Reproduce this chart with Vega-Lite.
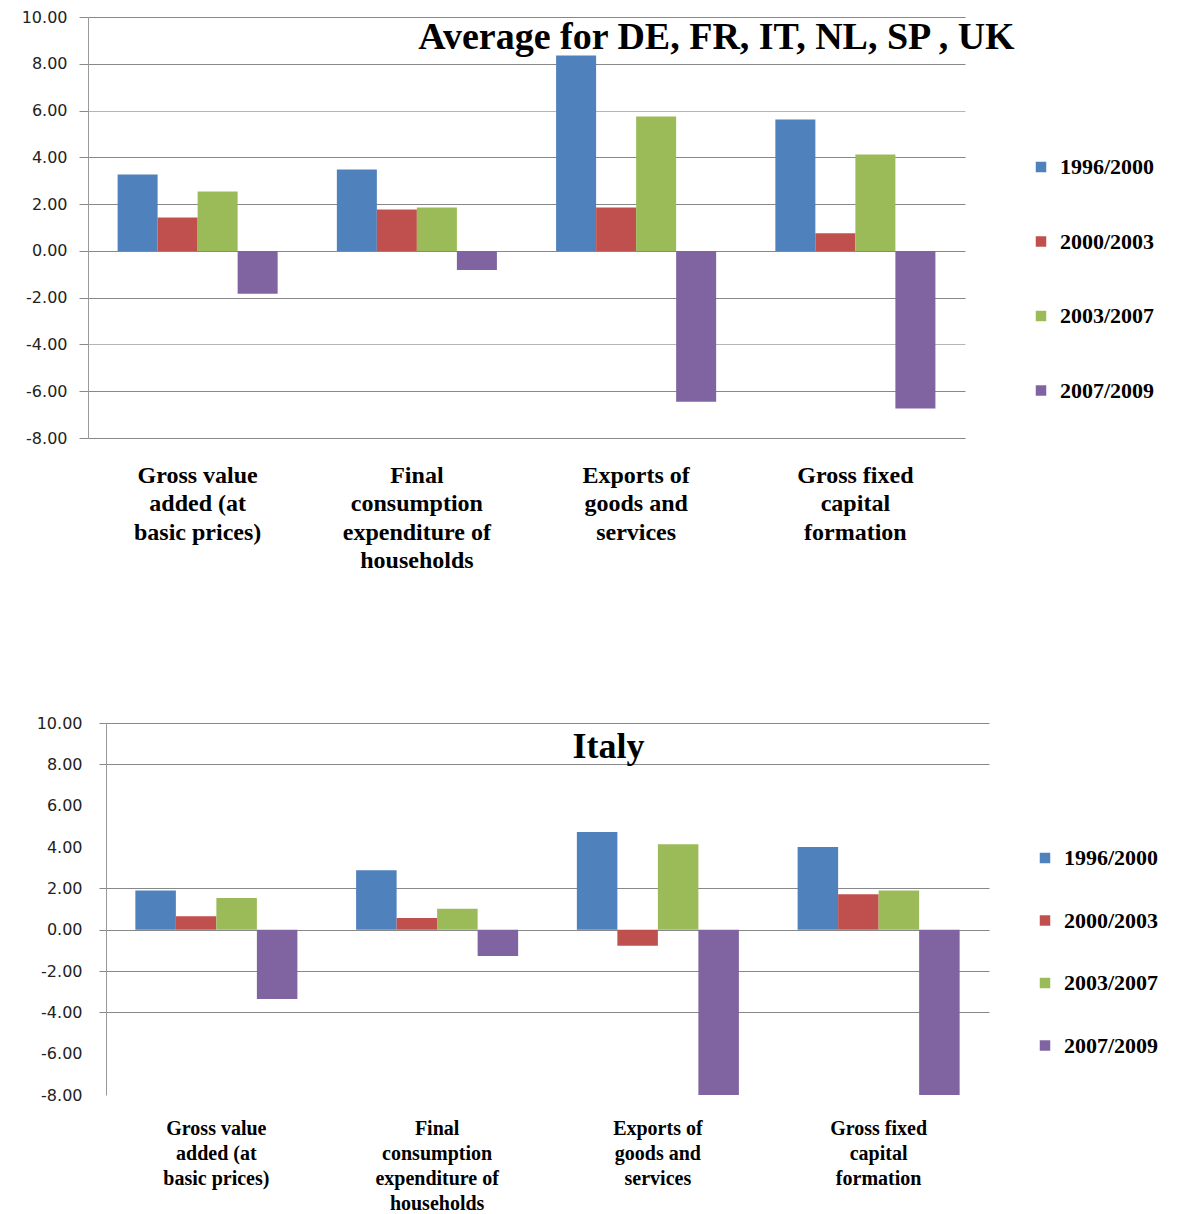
{
  "$schema": "https://vega.github.io/schema/vega-lite/v6.json",
  "background": "white",
  "padding": {"left": 0, "top": 9, "right": 0, "bottom": 0},
  "config": {"view": {"stroke": null}},
  "datasets": {
    "avg": [
      {"category": "Gross value added (at basic prices)", "period": "1996/2000", "value": 3.27},
      {"category": "Gross value added (at basic prices)", "period": "2000/2003", "value": 1.43},
      {"category": "Gross value added (at basic prices)", "period": "2003/2007", "value": 2.54},
      {"category": "Gross value added (at basic prices)", "period": "2007/2009", "value": -1.83},
      {"category": "Final consumption expenditure of households", "period": "1996/2000", "value": 3.48},
      {"category": "Final consumption expenditure of households", "period": "2000/2003", "value": 1.77},
      {"category": "Final consumption expenditure of households", "period": "2003/2007", "value": 1.86},
      {"category": "Final consumption expenditure of households", "period": "2007/2009", "value": -0.82},
      {"category": "Exports of goods and services", "period": "1996/2000", "value": 8.35},
      {"category": "Exports of goods and services", "period": "2000/2003", "value": 1.86},
      {"category": "Exports of goods and services", "period": "2003/2007", "value": 5.75},
      {"category": "Exports of goods and services", "period": "2007/2009", "value": -6.45},
      {"category": "Gross fixed capital formation", "period": "1996/2000", "value": 5.62},
      {"category": "Gross fixed capital formation", "period": "2000/2003", "value": 0.75},
      {"category": "Gross fixed capital formation", "period": "2003/2007", "value": 4.12},
      {"category": "Gross fixed capital formation", "period": "2007/2009", "value": -6.74}
    ],
    "italy": [
      {"category": "Gross value added (at basic prices)", "period": "1996/2000", "value": 1.9},
      {"category": "Gross value added (at basic prices)", "period": "2000/2003", "value": 0.65},
      {"category": "Gross value added (at basic prices)", "period": "2003/2007", "value": 1.53},
      {"category": "Gross value added (at basic prices)", "period": "2007/2009", "value": -3.35},
      {"category": "Final consumption expenditure of households", "period": "1996/2000", "value": 2.88},
      {"category": "Final consumption expenditure of households", "period": "2000/2003", "value": 0.56},
      {"category": "Final consumption expenditure of households", "period": "2003/2007", "value": 1.01},
      {"category": "Final consumption expenditure of households", "period": "2007/2009", "value": -1.28},
      {"category": "Exports of goods and services", "period": "1996/2000", "value": 4.72},
      {"category": "Exports of goods and services", "period": "2000/2003", "value": -0.78},
      {"category": "Exports of goods and services", "period": "2003/2007", "value": 4.13},
      {"category": "Exports of goods and services", "period": "2007/2009", "value": -8.0},
      {"category": "Gross fixed capital formation", "period": "1996/2000", "value": 4.0},
      {"category": "Gross fixed capital formation", "period": "2000/2003", "value": 1.71},
      {"category": "Gross fixed capital formation", "period": "2003/2007", "value": 1.9},
      {"category": "Gross fixed capital formation", "period": "2007/2009", "value": -8.0}
    ]
  },
  "spacing": 142,
  "resolve": {
    "scale": {"x": "independent", "y": "independent", "xOffset": "independent", "color": "independent"},
    "legend": {"color": "independent"}
  },
  "vconcat": [
    {
      "width": 877,
      "height": 421,
      "title": {"text": "Average for DE, FR, IT, NL, SP , UK", "font": "Liberation Serif", "fontSize": 38, "fontWeight": "bold", "color": "black", "anchor": "middle", "frame": "group", "dx": 190, "offset": -48},
      "data": {"name": "avg"},
      "mark": {"type": "bar"},
      "encoding": {
        "x": {
          "field": "category", "type": "nominal",
          "sort": ["Gross value added (at basic prices)", "Final consumption expenditure of households", "Exports of goods and services", "Gross fixed capital formation"],
          "scale": {"paddingInner": 0.27, "paddingOuter": 0.135},
          "axis": {
            "title": null, "domain": false, "ticks": false, "grid": false, "labelAngle": 0,
            "labelFont": "Liberation Serif", "labelFontWeight": "bold", "labelFontSize": 24, "labelColor": "black",
            "labelLineHeight": 28.5, "labelBaseline": "top", "labelPadding": 25, "labelLimit": 0,
            "labelExpr": "datum.value == 'Gross value added (at basic prices)' ? ['Gross value', 'added (at', 'basic prices)'] : datum.value == 'Final consumption expenditure of households' ? ['Final', 'consumption', 'expenditure of', 'households'] : datum.value == 'Exports of goods and services' ? ['Exports of', 'goods and', 'services'] : ['Gross fixed', 'capital', 'formation']"
          }
        },
        "xOffset": {"field": "period", "type": "nominal", "sort": ["1996/2000", "2000/2003", "2003/2007", "2007/2009"], "scale": {"paddingInner": 0, "paddingOuter": 0}},
        "y": {
          "field": "value", "type": "quantitative",
          "scale": {"domain": [-8, 10], "nice": false, "zero": false},
          "axis": {
            "title": null, "values": [-8, -6, -4, -2, 0, 2, 4, 6, 8, 10], "format": ".2f",
            "labelExpr": "replace(datum.label, '\u2212', '-')",
            "labelFont": "DejaVu Sans", "labelFontSize": 16, "labelColor": "#222", "labelPadding": 12,
            "tickSize": 9, "tickColor": "#888", "domainColor": "#999",
            "gridColor": {"condition": {"test": "datum.value == 6 || datum.value == -4", "value": "#b5b5b5"}, "value": "#888"},
            "minExtent": 88
          }
        },
        "color": {
          "field": "period", "type": "nominal",
          "scale": {"domain": ["1996/2000", "2000/2003", "2003/2007", "2007/2009"], "range": ["#4F81BD", "#C0504D", "#9BBB59", "#8064A2"]},
          "legend": {
            "title": null, "orient": "none", "legendX": 942, "legendY": 139, "padding": 0,
            "symbolType": "square", "symbolSize": 110, "symbolStrokeWidth": 0,
            "labelFont": "Liberation Serif", "labelFontWeight": "bold", "labelFontSize": 22, "labelColor": "black",
            "labelOffset": 8, "rowPadding": 52.5
          }
        }
      }
    },
    {
      "width": 901,
      "height": 372,
      "title": {"text": "Italy", "font": "Liberation Serif", "fontSize": 36, "fontWeight": "bold", "color": "black", "anchor": "middle", "frame": "group", "dx": 70, "offset": -51},
      "data": {"name": "italy"},
      "mark": {"type": "bar", "clip": true},
      "encoding": {
        "x": {
          "field": "category", "type": "nominal",
          "sort": ["Gross value added (at basic prices)", "Final consumption expenditure of households", "Exports of goods and services", "Gross fixed capital formation"],
          "scale": {"paddingInner": 0.266, "paddingOuter": 0.133, "range": [18, 901]},
          "axis": {
            "title": null, "domain": false, "ticks": false, "grid": false, "labelAngle": 0,
            "labelFont": "Liberation Serif", "labelFontWeight": "bold", "labelFontSize": 20, "labelColor": "black",
            "labelLineHeight": 25, "labelBaseline": "top", "labelPadding": 23, "labelLimit": 0,
            "labelExpr": "datum.value == 'Gross value added (at basic prices)' ? ['Gross value', 'added (at', 'basic prices)'] : datum.value == 'Final consumption expenditure of households' ? ['Final', 'consumption', 'expenditure of', 'households'] : datum.value == 'Exports of goods and services' ? ['Exports of', 'goods and', 'services'] : ['Gross fixed', 'capital', 'formation']"
          }
        },
        "xOffset": {"field": "period", "type": "nominal", "sort": ["1996/2000", "2000/2003", "2003/2007", "2007/2009"], "scale": {"paddingInner": 0, "paddingOuter": 0}},
        "y": {
          "field": "value", "type": "quantitative",
          "scale": {"domain": [-8, 10], "nice": false, "zero": false},
          "axis": {
            "title": null, "values": [-8, -6, -4, -2, 0, 2, 4, 6, 8, 10], "format": ".2f",
            "labelExpr": "replace(datum.label, '\u2212', '-')",
            "offset": -18,
            "labelFont": "DejaVu Sans", "labelFontSize": 16, "labelColor": "#222", "labelPadding": 17,
            "tickSize": 7, "domainColor": "#999",
            "gridColor": {"condition": {"test": "datum.value == 6 || datum.value == 4 || datum.value == -6 || datum.value == -8", "value": "rgba(255,255,255,0)"}, "value": "#888"},
            "tickColor": {"condition": {"test": "datum.value == 6 || datum.value == 4 || datum.value == -6 || datum.value == -8", "value": "rgba(255,255,255,0)"}, "value": "#888"},
            "minExtent": 10
          }
        },
        "color": {
          "field": "period", "type": "nominal",
          "scale": {"domain": ["1996/2000", "2000/2003", "2003/2007", "2007/2009"], "range": ["#4F81BD", "#C0504D", "#9BBB59", "#8064A2"]},
          "legend": {
            "title": null, "orient": "none", "legendX": 946, "legendY": 124, "padding": 0,
            "symbolType": "square", "symbolSize": 110, "symbolStrokeWidth": 0,
            "labelFont": "Liberation Serif", "labelFontWeight": "bold", "labelFontSize": 22, "labelColor": "black",
            "labelOffset": 8, "rowPadding": 40.5
          }
        }
      }
    }
  ]
}
